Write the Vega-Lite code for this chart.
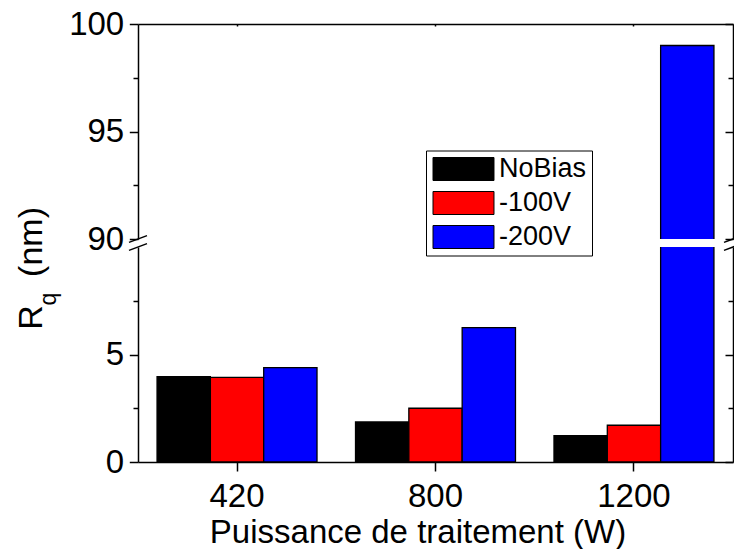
{
  "$schema": "https://vega.github.io/schema/vega-lite/v6.json",
  "padding": {"left": 13, "top": 8, "right": -7, "bottom": 0},
  "background": "white",
  "config": {
    "view": {"stroke": null},
    "font": "Liberation Sans",
    "axis": {
      "grid": false,
      "domainColor": "black",
      "domainWidth": 1.5,
      "tickColor": "black",
      "tickWidth": 1.5,
      "labelColor": "black",
      "titleColor": "black",
      "labelFont": "Liberation Sans",
      "titleFont": "Liberation Sans",
      "labelFontSize": 33,
      "titleFontSize": 34,
      "titleFontWeight": "normal"
    }
  },
  "datasets": {
    "rq": [
      {"power": "420", "bias": "NoBias", "rq": 3.97},
      {"power": "420", "bias": "-100V", "rq": 3.94},
      {"power": "420", "bias": "-200V", "rq": 4.39},
      {"power": "800", "bias": "NoBias", "rq": 1.86},
      {"power": "800", "bias": "-100V", "rq": 2.5},
      {"power": "800", "bias": "-200V", "rq": 6.25},
      {"power": "1200", "bias": "NoBias", "rq": 1.23},
      {"power": "1200", "bias": "-100V", "rq": 1.71},
      {"power": "1200", "bias": "-200V", "rq": 99.0}
    ],
    "edges": [{"edge": 0}, {"edge": 1}]
  },
  "spacing": 8,
  "bounds": "flush",
  "resolve": {"scale": {"color": "shared"}, "legend": {"color": "independent"}},
  "vconcat": [
    {
      "width": 595,
      "height": 215,
      "resolve": {"scale": {"x": "independent"}, "axis": {"x": "independent", "y": "independent"}},
      "layer": [
        {
          "data": {"name": "rq"},
          "mark": {"type": "bar", "clip": true, "stroke": "black", "strokeWidth": 1.3},
          "encoding": {
            "x": {
              "field": "power", "type": "nominal", "sort": ["420", "800", "1200"],
              "scale": {"paddingInner": 0.194, "paddingOuter": 0.096},
              "axis": {"orient": "top", "labels": false, "tickSize": -2, "title": null}
            },
            "xOffset": {"field": "bias", "type": "nominal", "sort": ["NoBias", "-100V", "-200V"]},
            "y": {
              "field": "rq", "type": "quantitative",
              "scale": {"domain": [90, 100], "zero": false, "nice": false},
              "axis": {
                "orient": "left",
                "values": [90, 92.5, 95, 97.5, 100],
                "labelExpr": "datum.value % 5 === 0 ? format(datum.value, 'd') : ''",
                "tickSize": {"condition": {"test": "datum.value % 5 !== 0", "value": 5}, "value": 8.7},
                "labelPadding": 5.6,
                "title": "q",
                "titleFontSize": 23,
                "titleAngle": 270,
                "titleAlign": "left",
                "titleBaseline": "alphabetic",
                "titleX": -83,
                "titleY": 281
              }
            },
            "color": {
              "field": "bias", "type": "nominal",
              "scale": {"domain": ["NoBias", "-100V", "-200V"], "range": ["#000000", "#FF0000", "#0000FF"]},
              "legend": {
                "orient": "none",
                "legendX": 288,
                "legendY": 126.5,
                "title": null,
                "labelFontSize": 27,
                "labelFont": "Liberation Sans",
                "labelColor": "black",
                "labelLimit": 0,
                "symbolType": "M-1,-1L4.304,-1L4.304,1L-1,1Z",
                "symbolSize": 529,
                "symbolStrokeColor": "black",
                "symbolStrokeWidth": 1,
                "symbolOpacity": 1,
                "strokeColor": "black",
                "fillColor": "white",
                "padding": 5,
                "rowPadding": 6,
                "labelOffset": 41
              }
            }
          }
        },
        {
          "data": {"name": "edges"},
          "mark": {"type": "point", "shape": "M-1,0.38L1,-0.38", "size": 324, "filled": false, "stroke": "black", "strokeWidth": 1.5, "opacity": 1},
          "encoding": {
            "x": {"field": "edge", "type": "quantitative", "scale": {"domain": [0, 1], "nice": false, "zero": false}, "axis": null},
            "y": {
              "datum": 90, "type": "quantitative",
              "scale": {"domain": [90, 100], "zero": false, "nice": false},
              "axis": {
                "orient": "right",
                "values": [90, 92.5, 95, 97.5, 100],
                "labels": false,
                "tickSize": {"condition": {"test": "datum.value % 5 !== 0", "value": -5}, "value": -8},
                "title": null
              }
            }
          }
        }
      ]
    },
    {
      "width": 595,
      "height": 215,
      "resolve": {"scale": {"x": "independent"}, "axis": {"x": "independent", "y": "independent"}},
      "layer": [
        {
          "data": {"name": "rq"},
          "mark": {"type": "bar", "clip": true, "stroke": "black", "strokeWidth": 1.3},
          "encoding": {
            "x": {
              "field": "power", "type": "nominal", "sort": ["420", "800", "1200"],
              "scale": {"paddingInner": 0.194, "paddingOuter": 0.096},
              "axis": {
                "orient": "bottom",
                "labelAngle": 0,
                "tickSize": 9,
                "labelPadding": 9,
                "title": "Puissance de traitement (W)",
                "titleFontSize": 33,
                "titleX": 279.5,
                "titleY": 80,
                "titleBaseline": "alphabetic"
              }
            },
            "xOffset": {"field": "bias", "type": "nominal", "sort": ["NoBias", "-100V", "-200V"]},
            "y": {
              "field": "rq", "type": "quantitative",
              "scale": {"domain": [0, 10], "nice": false},
              "axis": {
                "orient": "left",
                "values": [0, 2.5, 5, 7.5],
                "labelExpr": "datum.value % 5 === 0 ? format(datum.value, 'd') : ''",
                "tickSize": {"condition": {"test": "datum.value % 5 !== 0", "value": 5}, "value": 8.7},
                "labelPadding": 5.6,
                "title": "R\u00a0\u00a0\u00a0(nm)",
                "titleAngle": 270,
                "titleAlign": "left",
                "titleBaseline": "alphabetic",
                "titleX": -97,
                "titleY": 82.3
              }
            },
            "color": {
              "field": "bias", "type": "nominal",
              "scale": {"domain": ["NoBias", "-100V", "-200V"], "range": ["#000000", "#FF0000", "#0000FF"]},
              "legend": null
            }
          }
        },
        {
          "data": {"name": "edges"},
          "mark": {"type": "point", "shape": "M-1,0.38L1,-0.38", "size": 324, "filled": false, "stroke": "black", "strokeWidth": 1.5, "opacity": 1},
          "encoding": {
            "x": {"field": "edge", "type": "quantitative", "scale": {"domain": [0, 1], "nice": false, "zero": false}, "axis": null},
            "y": {
              "datum": 10, "type": "quantitative",
              "scale": {"domain": [0, 10], "nice": false},
              "axis": {
                "orient": "right",
                "values": [0, 2.5, 5, 7.5],
                "labels": false,
                "tickSize": {"condition": {"test": "datum.value % 5 !== 0", "value": -5}, "value": -8},
                "title": null
              }
            }
          }
        }
      ]
    }
  ]
}
